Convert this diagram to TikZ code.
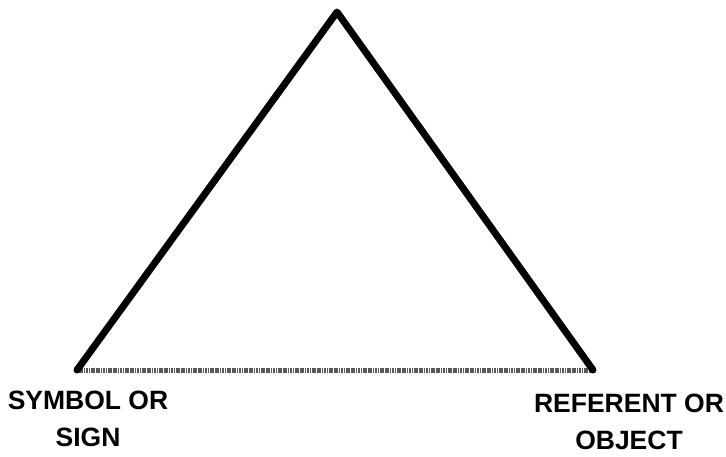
\documentclass[tikz,border=0pt]{standalone}
\usepackage{fontspec}
\setmainfont{Liberation Sans}
\usetikzlibrary{positioning}
\tikzset{
  corner/.style={inner sep=0pt,minimum size=0pt},
  side/.style={line width=7pt,line cap=round,line join=round,draw=black},
  base/.style={line width=5pt,draw=black!65,dash pattern=on 1.2pt off 0.5pt},
  label/.style={font=\bfseries\fontsize{26.5}{37}\selectfont,align=center,inner sep=0pt,anchor=north}
}
\begin{document}
\begin{tikzpicture}[x=1pt,y=-1pt]
\path[use as bounding box] (0,0) rectangle (726,456);
% corners of the triangle
\node[corner] (top) at (337,12) {};
\node[corner] (sym) at (77,370) {};
\node[corner] (ref) at (593,370) {};
\draw[base] (sym.center)--(ref.center);
\draw[side] (sym.center)--(top.center)--(ref.center);
% labels
\node[label] (symlbl) at (88,391) {SYMBOL OR\\SIGN};
\node[label] (reflbl) at (629,394) {REFERENT OR\\OBJECT};
\end{tikzpicture}
\end{document}
